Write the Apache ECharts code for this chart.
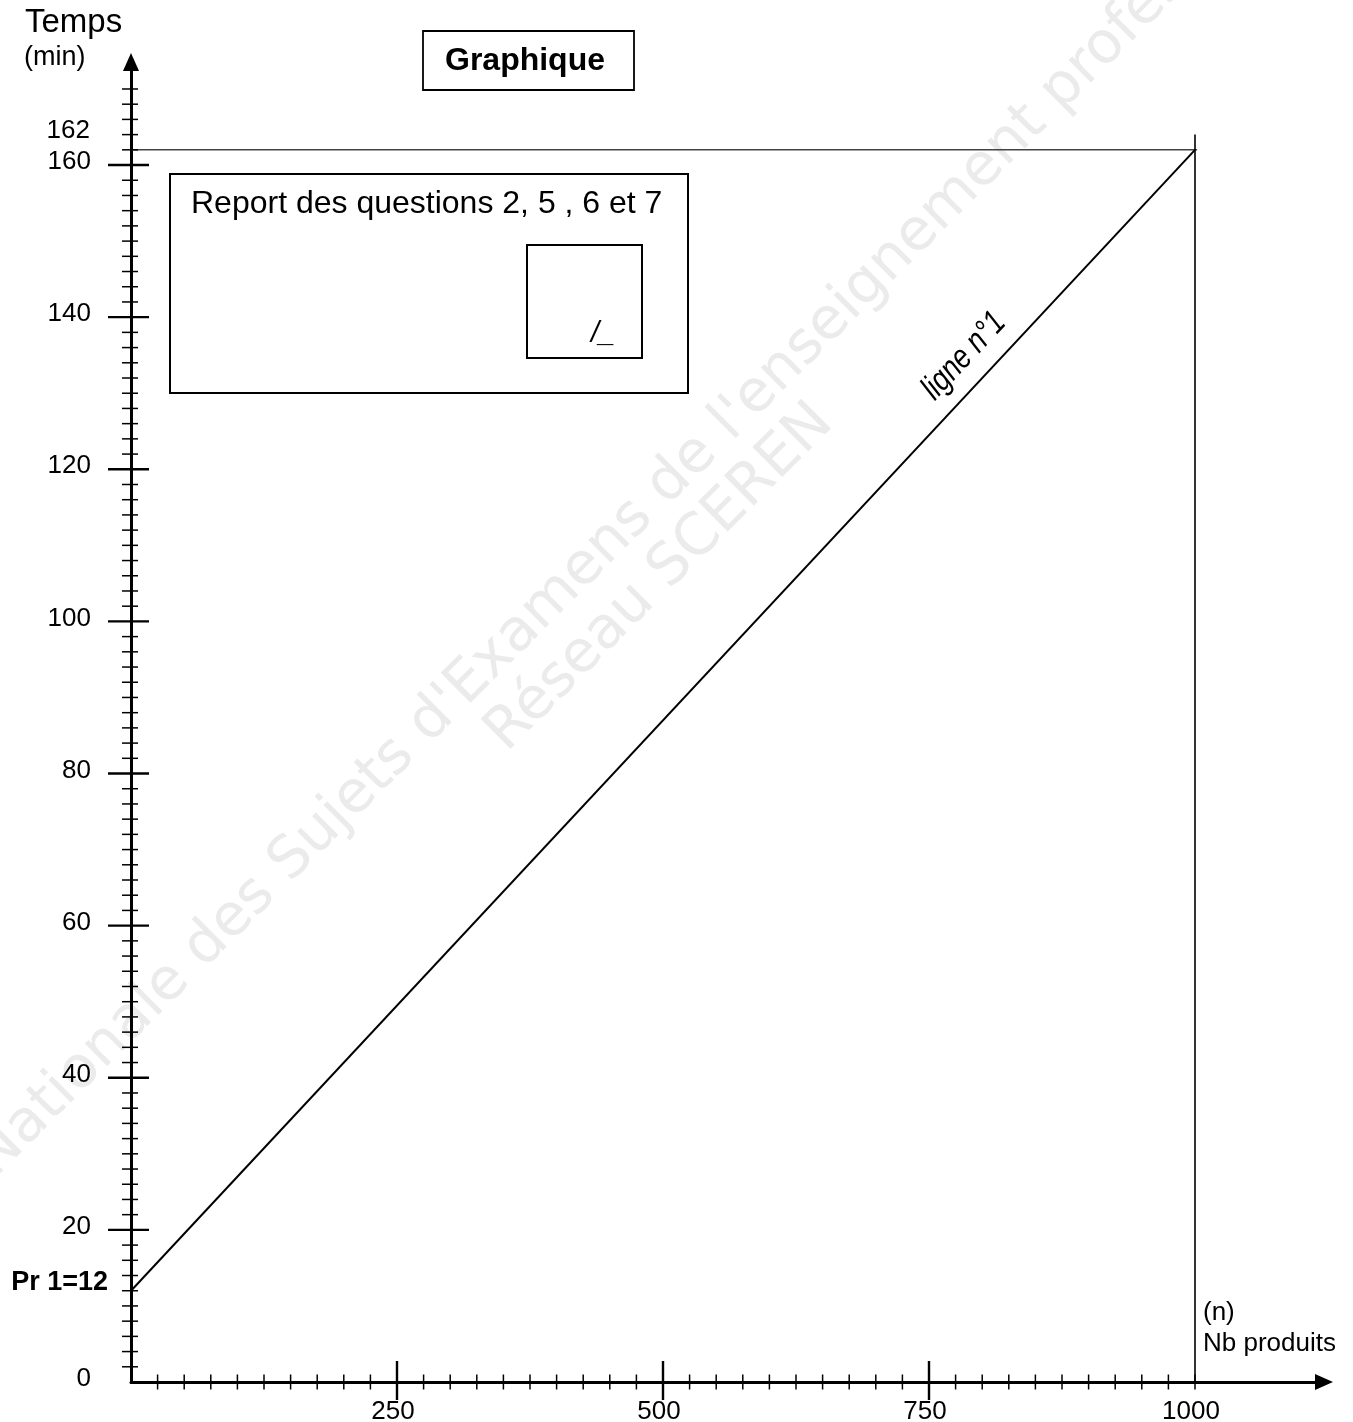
<!DOCTYPE html>
<html><head><meta charset="utf-8">
<script src="https://cdn.jsdelivr.net/npm/echarts@6/dist/echarts.min.js"></script>
<style>html,body{margin:0;padding:0;background:#fff}#c{width:1353px;height:1422px}</style>
</head><body><div id="c"></div>
<script>
// ---- data ----
const lineX = [0, 1000];          // Nb produits
const lineY = [12, 162];          // Temps (min) - ligne n°1
const limitTime = 162;            // horizontal guide
const limitCount = 1000;          // vertical guide
const originValue = 12;           // Pr 1 = 12
const xMajorTicks = [250, 500, 750];
const xLabelValues = [250, 500, 750, 1000];
const xTickLabels = ['250', '500', '750', '1000'];
const yMajorTicks = [20, 40, 60, 80, 100, 120, 140, 160];
const yLabelValues = [0, 20, 40, 60, 80, 100, 120, 140, 160];
const yTickLabels = ['0', '20', '40', '60', '80', '100', '120', '140', '160'];
const xMinorStep = 25, xMinorEnd = 1000;
const yMinorStep = 2, yMinorEnd = 170;

const F = "'Liberation Sans', Arial, sans-serif";

// tick data: [x, y, kind]
const tickData = [];
for (let v = xMinorStep; v <= xMinorEnd; v += xMinorStep) {
  if (xMajorTicks.indexOf(v) < 0) tickData.push([v, 0, 0]);
}
xMajorTicks.forEach(v => tickData.push([v, 0, 1]));
for (let v = yMinorStep; v <= yMinorEnd; v += yMinorStep) {
  if (yMajorTicks.indexOf(v) < 0) tickData.push([0, v, 2]);
}
yMajorTicks.forEach(v => tickData.push([0, v, 3]));

const chart = echarts.init(document.getElementById('c'), null, {renderer: 'canvas'});

function tickItem(params, api) {
  const p = api.coord([api.value(0), api.value(1)]);
  const k = api.value(2);
  let s;
  if (k === 0) s = {x1: p[0], y1: p[1] - 7.5, x2: p[0], y2: p[1] + 7.5};
  else if (k === 1) s = {x1: p[0], y1: p[1] - 21, x2: p[0], y2: p[1] + 18};
  else if (k === 2) s = {x1: p[0] - 9, y1: p[1], x2: p[0] + 7, y2: p[1]};
  else s = {x1: p[0] - 23, y1: p[1], x2: p[0] + 18, y2: p[1]};
  return {type: 'line', shape: s, style: {stroke: '#000', lineWidth: (k % 2) ? 2.4 : 1.5}};
}

const option = {
  backgroundColor: '#fff',
  animation: false,
  grid: {left: 131, top: 62, width: 1193, height: 1320},
  xAxis: {
    type: 'value', min: 0, max: 1193 / 1.064,
    splitLine: {show: false}, axisTick: {show: false}, axisLabel: {show: false},
    axisLine: {show: true, onZero: false, symbol: ['none', 'triangle'], symbolSize: [16, 18],
      lineStyle: {color: '#000', width: 3}}
  },
  yAxis: {
    type: 'value', min: 0, max: 1320 / 7.606,
    splitLine: {show: false}, axisTick: {show: false}, axisLabel: {show: false},
    axisLine: {show: true, onZero: false, symbol: ['none', 'triangle'], symbolSize: [16, 18],
      lineStyle: {color: '#000', width: 3}}
  },
  graphic: [
    {type: 'text', x: 570, y: 582, rotation: Math.PI / 4, z: -10,
      style: {text: "Banque Nationale des Sujets d'Examens de l'enseignement professionnel",
        fill: '#ebebeb', font: "58px 'DejaVu Sans', sans-serif", align: 'center', verticalAlign: 'middle'}},
    {type: 'text', x: 660, y: 578, rotation: Math.PI / 4, z: -10,
      style: {text: 'Réseau SCEREN', fill: '#ebebeb', font: "58px 'DejaVu Sans', sans-serif",
        align: 'center', verticalAlign: 'middle'}},
    {type: 'text', x: 25, y: 23, style: {text: 'Temps', fill: '#000', font: '33px ' + F, verticalAlign: 'middle'}},
    {type: 'text', x: 24, y: 58, style: {text: '(min)', fill: '#000', font: '27px ' + F, verticalAlign: 'middle'}},
    {type: 'text', x: 1203, y: 1313, style: {text: '(n)', fill: '#000', font: '26px ' + F, verticalAlign: 'middle'}},
    {type: 'text', x: 1203, y: 1344, style: {text: 'Nb produits', fill: '#000', font: '26px ' + F, verticalAlign: 'middle'}},
    {type: 'rect', shape: {x: 423, y: 31, width: 211, height: 59}, style: {fill: '#fff', stroke: '#000', lineWidth: 1.8}},
    {type: 'text', x: 525, y: 61, style: {text: 'Graphique', fill: '#000', font: 'bold 32px ' + F, align: 'center', verticalAlign: 'middle'}},
    {type: 'rect', shape: {x: 170, y: 174, width: 518, height: 219}, style: {fill: '#fff', stroke: '#000', lineWidth: 2}},
    {type: 'text', x: 191, y: 204, style: {text: 'Report des questions 2, 5 , 6 et 7', fill: '#000', font: '32px ' + F, verticalAlign: 'middle'}},
    {type: 'rect', shape: {x: 527, y: 245, width: 115, height: 113}, style: {fill: '#fff', stroke: '#000', lineWidth: 2}},
    {type: 'text', x: 591, y: 334, style: {text: '/_', fill: '#000', font: 'italic 29px ' + F, verticalAlign: 'middle'}},
    {type: 'text', x: 964, y: 356, rotation: 47 * Math.PI / 180, scaleX: 0.8, z: 50,
      style: {text: 'ligne n°1', fill: '#000', font: "italic 34px 'Liberation Sans', sans-serif",
        align: 'center', verticalAlign: 'middle'}}
  ],
  series: [
    {type: 'line', data: [[0, limitTime], [limitCount + 2, limitTime]], symbol: 'none', silent: true,
      lineStyle: {color: '#444', width: 1.5}, z: 3},
    {type: 'line', data: [[limitCount, -1.8], [limitCount, limitTime + 2]], symbol: 'none', silent: true,
      lineStyle: {color: '#000', width: 1.6}, z: 3},
    {type: 'line', data: lineX.map((x, i) => [x, lineY[i]]), symbol: 'none', silent: true,
      lineStyle: {color: '#000', width: 2}, z: 4},
    {type: 'custom', data: tickData, renderItem: tickItem, silent: true, z: 5, clip: false},
    {type: 'custom', data: xLabelValues.map(v => [v, 0]), silent: true, z: 5, clip: false,
      renderItem: function (params, api) {
        const p = api.coord([api.value(0), api.value(1)]);
        return {type: 'text', x: p[0] - 4, y: p[1] + 30,
          style: {text: xTickLabels[params.dataIndex], fill: '#000', font: '26px ' + F, align: 'center', verticalAlign: 'middle'}};
      }},
    {type: 'custom', data: yLabelValues.map(v => [0, v]), silent: true, z: 5, clip: false,
      renderItem: function (params, api) {
        const p = api.coord([api.value(0), api.value(1)]);
        return {type: 'text', x: p[0] - 40, y: p[1] - 3,
          style: {text: yTickLabels[params.dataIndex], fill: '#000', font: '26px ' + F, align: 'right', verticalAlign: 'middle'}};
      }},
    {type: 'custom', data: [[0, limitTime]], silent: true, z: 5, clip: false,
      renderItem: function (params, api) {
        const p = api.coord([api.value(0), api.value(1)]);
        return {type: 'text', x: p[0] - 41, y: p[1] - 19,
          style: {text: String(limitTime), fill: '#000', font: '26px ' + F, align: 'right', verticalAlign: 'middle'}};
      }},
    {type: 'custom', data: [[0, originValue]], silent: true, z: 5, clip: false,
      renderItem: function (params, api) {
        const p = api.coord([api.value(0), api.value(1)]);
        return {type: 'text', x: p[0] - 23, y: p[1] - 8,
          style: {text: 'Pr 1=' + originValue, fill: '#000', font: 'bold 27px ' + F, align: 'right', verticalAlign: 'middle'}};
      }}
  ]
};
chart.setOption(option);
</script>
</body></html>
